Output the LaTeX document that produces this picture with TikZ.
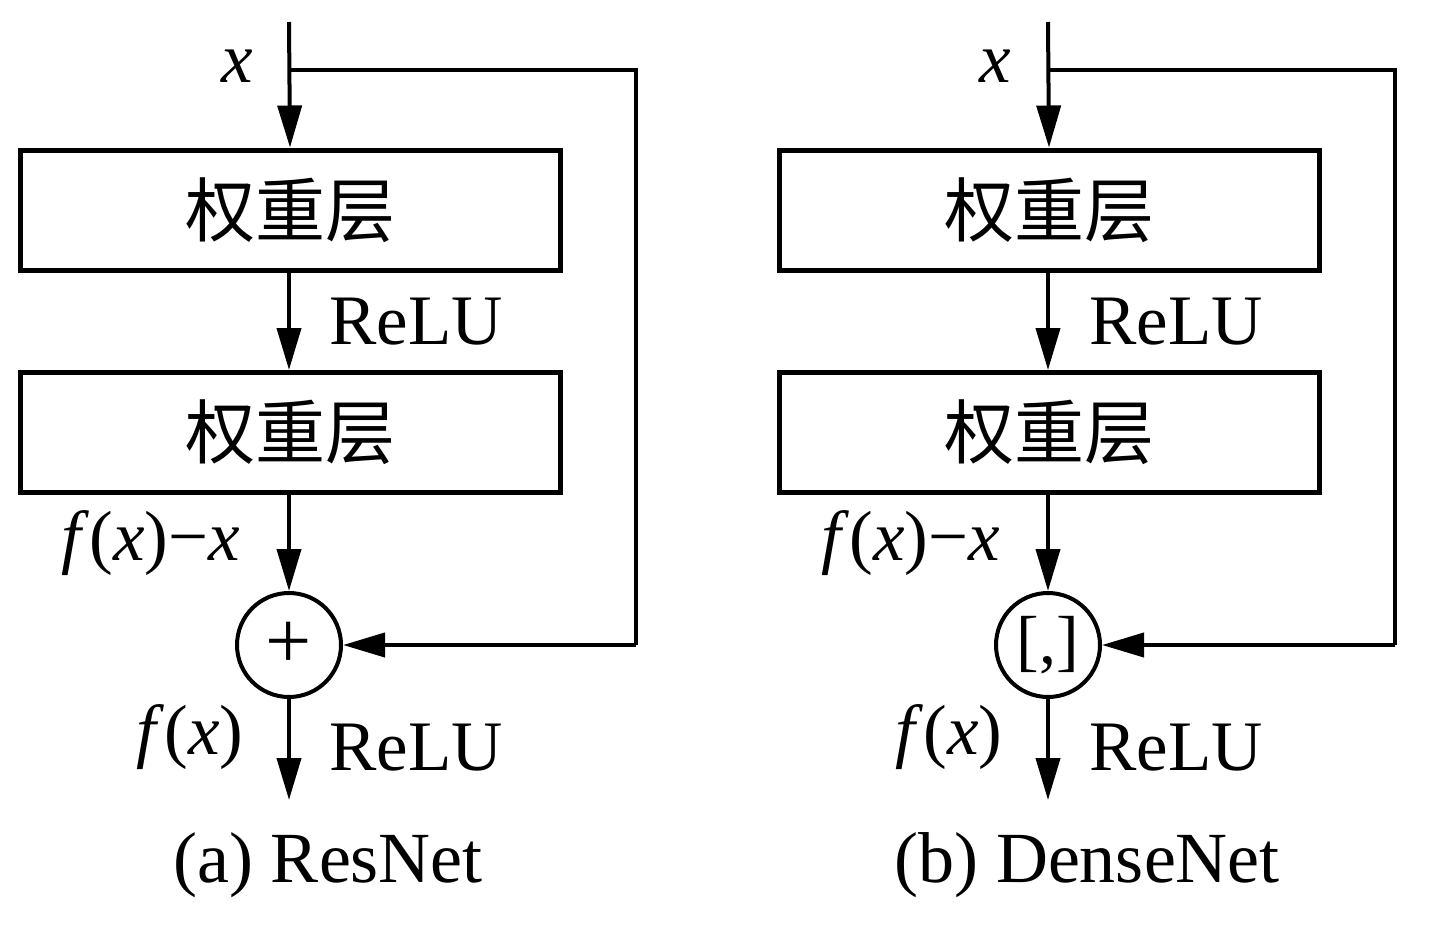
\documentclass[tikz,border=0pt]{standalone}
\usepackage{fontspec}
\setmainfont{Liberation Serif}
\newfontfamily\cjk{Noto Sans CJK SC}
\usetikzlibrary{arrows.meta}
\begin{document}
\begin{tikzpicture}[x=1pt,y=-1pt,
  ln/.style={line width=4pt},
  arr/.style={line width=4pt,-{Triangle[length=42pt,width=24pt]}},
  layerbox/.style={draw,line width=5pt,rectangle,minimum width=540pt,minimum height=120pt,inner sep=0pt,font=\cjk\fontsize{70}{72}\selectfont},
  opnode/.style={draw,line width=4pt,circle,minimum size=104pt,inner sep=0pt},
  lbl/.style={inner sep=0pt,font=\fontsize{71}{72}\selectfont},
  captext/.style={inner sep=0pt,font=\fontsize{72}{74}\selectfont}
]
\useasboundingbox (0,0) rectangle (1446,924);
% ---------- (a) ResNet ----------
\coordinate (ain) at (289,22);
\coordinate (abr) at (289,70);
\coordinate (acor) at (636,645);
\coordinate (aout) at (289,800);
\node[layerbox] (a1) at (290,210) {权重层};
\node[layerbox] (a2) at (290,432.5) {权重层};
\node[opnode,font=\fontsize{82}{82}\selectfont] (ac) at (289,645) {+};
\draw[arr] (ain) -- (a1.north);
\draw[ln] (abr) -| (acor);
\draw[arr] (acor) -- (ac.east);
\draw[arr] (a1.south -| ain) -- (a2.north -| ain);
\draw[arr] (a2.south -| ain) -- (ac.north);
\draw[arr] (ac.south) -- (aout);
\node[lbl] (ax) at (237,66) {\textit{x}};
\node[lbl,anchor=west] (ar1) at (329,322) {ReLU};
\node[lbl] (afx1) at (151,543) {\textit{f}(\textit{x})−\textit{x}};
\node[lbl] (afx2) at (190,737) {\textit{f}(\textit{x})};
\node[lbl,anchor=west] (ar2) at (329,748) {ReLU};
\node[captext] (acap) at (328,865) {(a) ResNet};
% ---------- (b) DenseNet ----------
\coordinate (bin) at (1048,22);
\coordinate (bbr) at (1048,70);
\coordinate (bcor) at (1395,645);
\coordinate (bout) at (1048,800);
\node[layerbox] (b1) at (1049,210) {权重层};
\node[layerbox] (b2) at (1049,432.5) {权重层};
\node[opnode,font=\fontsize{68}{68}\selectfont] (bc) at (1048,645) {[,]};
\draw[arr] (bin) -- (b1.north);
\draw[ln] (bbr) -| (bcor);
\draw[arr] (bcor) -- (bc.east);
\draw[arr] (b1.south -| bin) -- (b2.north -| bin);
\draw[arr] (b2.south -| bin) -- (bc.north);
\draw[arr] (bc.south) -- (bout);
\node[lbl] (bx) at (995,66) {\textit{x}};
\node[lbl,anchor=west] (br1) at (1089,322) {ReLU};
\node[lbl] (bfx1) at (911,543) {\textit{f}(\textit{x})−\textit{x}};
\node[lbl] (bfx2) at (949,737) {\textit{f}(\textit{x})};
\node[lbl,anchor=west] (br2) at (1089,748) {ReLU};
\node[captext] (bcap) at (1087,865) {(b) DenseNet};
\end{tikzpicture}
\end{document}
